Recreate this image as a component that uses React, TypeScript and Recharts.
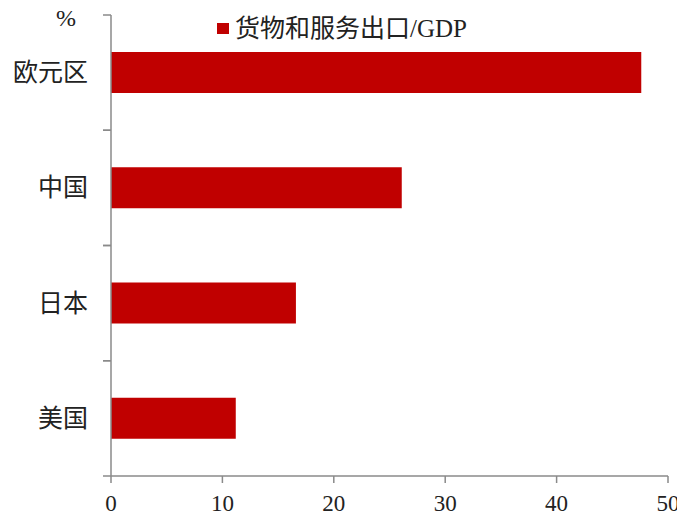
import React from "react";
import { BarChart, Bar, XAxis, YAxis, Legend } from "recharts";

const categories = ["欧元区", "中国", "日本", "美国"];
const exportShare = [47.6, 26.1, 16.6, 11.2];
const xTicks = [0, 10, 20, 30, 40, 50];
const seriesName = "货物和服务出口/GDP";
const unitLabel = "%";

const data = categories.map((c, i) => ({ name: c, value: exportShare[i] }));

const AXIS = "#8a8a8a";
const RED = "#C00000";
const FONT = '"Liberation Serif", "DejaVu Serif", "Noto Sans CJK SC", serif';
const Y_TICK_SIZE = 8;
const Y_TICK_MARGIN = 15;

const YTick = (props: any) => {
  const { x, y, payload, height } = props;
  const half =
    payload && typeof payload.offset === "number" && payload.offset > 0
      ? payload.offset
      : height / (2 * categories.length);
  const axisX = x + Y_TICK_MARGIN + Y_TICK_SIZE;
  return (
    <g>
      <line x1={axisX - Y_TICK_SIZE} x2={axisX} y1={y - half} y2={y - half} stroke={AXIS} strokeWidth={1.5} />
      <line x1={axisX - Y_TICK_SIZE} x2={axisX} y1={y + half} y2={y + half} stroke={AXIS} strokeWidth={1.5} />
      <text x={x} y={y} textAnchor="end" dominantBaseline="central" fontSize={25} fill="#222" fontFamily={FONT}>
        {payload.value}
      </text>
    </g>
  );
};

const LegendContent = (props: any) => {
  const { payload } = props;
  return (
    <div style={{ display: "flex", alignItems: "center", fontFamily: FONT, whiteSpace: "nowrap" }}>
      {(payload || []).map((p: any, i: number) => (
        <div key={i} style={{ display: "flex", alignItems: "center" }}>
          <div style={{ width: 12, height: 11, background: p.color, marginRight: 6 }} />
          <span style={{ fontSize: 25, color: "#222", lineHeight: "25px" }}>{p.value}</span>
        </div>
      ))}
    </div>
  );
};

export default function App() {
  return (
    <div style={{ position: "relative", width: 677, height: 509, background: "#fff" }}>
      <div
        style={{
          position: "absolute",
          left: 48,
          top: -2,
          fontSize: 24,
          fontFamily: FONT,
          color: "#222",
          lineHeight: "24px",
        }}
      >
        {unitLabel}
      </div>
      <BarChart
        width={677}
        height={509}
        data={data}
        layout="vertical"
        margin={{ top: 7, right: 17, left: 0, bottom: 10 }}
        barCategoryGap="32%"
      >
        <XAxis
          type="number"
          domain={[0, 50]}
          ticks={xTicks}
          interval={0}
          height={31}
          axisLine={{ stroke: AXIS, strokeWidth: 1.5 }}
          tickLine={{ stroke: AXIS, strokeWidth: 1.5 }}
          tickSize={7}
          tickMargin={12}
          tick={{ fontSize: 23, fill: "#222", fontFamily: FONT }}
        />
        <YAxis
          type="category"
          dataKey="name"
          width={103}
          axisLine={{ stroke: AXIS, strokeWidth: 1.5 }}
          tickLine={false}
          tickSize={Y_TICK_SIZE}
          tickMargin={Y_TICK_MARGIN}
          tick={<YTick />}
          interval={0}
        />
        <Legend
          layout="vertical"
          align="center"
          verticalAlign="middle"
          wrapperStyle={{ top: 8, left: 209, width: "auto" }}
          content={<LegendContent />}
        />
        <Bar dataKey="value" name={seriesName} fill={RED} isAnimationActive={false} />
      </BarChart>
    </div>
  );
}
